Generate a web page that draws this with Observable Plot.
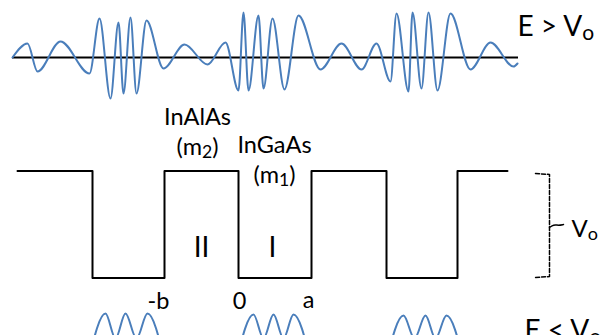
<!DOCTYPE html>
<html><head><meta charset="utf-8">
<script src="https://cdn.jsdelivr.net/npm/d3@7"></script>
<script src="https://cdn.jsdelivr.net/npm/@observablehq/plot@0.6"></script>
<style>html,body{margin:0;padding:0;background:#fff;overflow:hidden}</style>
</head><body><div id="chart"></div>
<script>
// Wave above the barriers (E > Vo): extrema
const topWaveX = [12,27,37,60,89,99,110,118,123,130,136,146,163,184,207,225,238,243,248,258,263,272,284,298,320,341,361,376,390,396,408,412,421,428,437,450,470,490,513,517];
const topWaveY = [57,43,71,41,73,18,98,22,93,17,93,20,68,44,64,42,90,12,90,15,88,18,89,15,69,43,69,43,81,13,91,12,88,12,90,13,69,42,66,63];
const topAxis = {y: 57, x1: 12, x2: 518};

// Wave below (E < Vo): three groups of humps, one per well
const bottomWaveGroup = ["A","A","A","A","A","A","A","B","B","B","B","B","B","B","C","C","C","C","C","C","C"];
const bottomWaveX = [88,105,115,125,136,147,164, 236,253,263,273,283,293,310, 386,403,414,425,435,446,463];
const bottomWaveY = [360,313,338,313,338,313,360, 360,314,338,314,338,314,360, 360,315,338,315,338,315,360];

// Potential profile: segment edges and level (1 = barrier Vo, 0 = well)
const profileEdges = [17, 92, 164, 238, 311, 386, 457, 507];
const profileLevels = [1, 0, 1, 0, 1, 0, 1];
const levelPos = {1: 170.5, 0: 277.5};

// Vo bracket
const bracketX = [535, 549, 549, 535];
const bracketY = [173, 174, 276, 277];
const tildeX = [549, 553, 558, 563];
const tildeY = [227, 224, 225, 224];

// Labels
const midLabels = ["InAlAs", "(m_2)", "InGaAs", "(m_1)", "-b", "0", "a"];
const midLabelX = [197, 197, 274, 274, 158, 239, 308];
const midLabelY = [124, 154, 152, 182, 308, 308, 307];
const regionLabels = ["II", "I"];
const regionLabelX = [201, 272];
const regionLabelY = [256, 256];
const bigLabels = ["E > V_o", "E < V_o"];
const bigLabelX = [517, 524];
const bigLabelY = [35, 339];
const voLabel = [{x: 571, y: 236, t: "V_o"}];

const blue = "#4a7ebb";

const topWave = topWaveX.map((x, i) => ({x, y: topWaveY[i]}));
const bottomWave = bottomWaveX.map((x, i) => ({x, y: bottomWaveY[i], g: bottomWaveGroup[i]}));
const profile = [];
profileLevels.forEach((lv, i) => {
  profile.push({x: profileEdges[i], y: levelPos[lv]});
  profile.push({x: profileEdges[i + 1], y: levelPos[lv]});
});
const bracket = bracketX.map((x, i) => ({x, y: bracketY[i]}));
const tilde = tildeX.map((x, i) => ({x, y: tildeY[i]}));
const mids = midLabels.map((t, i) => ({t, x: midLabelX[i], y: midLabelY[i]}));
const regions = regionLabels.map((t, i) => ({t, x: regionLabelX[i], y: regionLabelY[i]}));
const bigs = bigLabels.map((t, i) => ({t, x: bigLabelX[i], y: bigLabelY[i]}));

const font = "Lato, 'Open Sans', sans-serif";

const svg = Plot.plot({
  width: 602, height: 335, margin: 0,
  x: {domain: [0, 602], range: [0, 602], axis: null},
  y: {domain: [0, 335], range: [0, 335], axis: null},
  style: {fontFamily: font, fontSize: "22px", background: "#fff", color: "#000", overflow: "hidden"},
  marks: [
    Plot.ruleY([topAxis], {y: "y", x1: "x1", x2: "x2", stroke: "#000", strokeWidth: 2}),
    Plot.line(topWave, {x: "x", y: "y", curve: "monotone-x", stroke: blue, strokeWidth: 2}),
    Plot.line(bottomWave, {x: "x", y: "y", z: "g", curve: "monotone-x", stroke: blue, strokeWidth: 2, clip: true}),
    Plot.line(profile, {x: "x", y: "y", stroke: "#000", strokeWidth: 2}),
    Plot.line(bracket, {x: "x", y: "y", stroke: "#000", strokeWidth: 1.5, strokeDasharray: "4,2"}),
    Plot.line(tilde, {x: "x", y: "y", curve: "basis", stroke: "#000", strokeWidth: 1.5}),
    Plot.text(mids, {x: "x", y: "y", text: "t", textAnchor: "middle", lineAnchor: "bottom", fontSize: 23.5, fill: "#000"}),
    Plot.text(regions, {x: "x", y: "y", text: "t", textAnchor: "middle", lineAnchor: "bottom", fontSize: 28, fill: "#000"}),
    Plot.text(bigs, {x: "x", y: "y", text: "t", textAnchor: "start", lineAnchor: "bottom", fontSize: 28, fill: "#000"}),
    Plot.text(voLabel, {x: "x", y: "y", text: "t", textAnchor: "start", lineAnchor: "bottom", fontSize: 24, fill: "#000"})
  ]
});

// turn "X_s" into a subscript
const ns = "http://www.w3.org/2000/svg";
svg.querySelectorAll("text").forEach(t => {
  const s = t.textContent;
  const m = s.match(/^(.*)_(\w)(.*)$/);
  if (!m) return;
  while (t.firstChild) t.removeChild(t.firstChild);
  const a = document.createElementNS(ns, "tspan"); a.textContent = m[1];
  const b = document.createElementNS(ns, "tspan"); b.textContent = m[2];
  b.setAttribute("font-size", "0.75em"); b.setAttribute("dy", "0.22em");
  t.appendChild(a); t.appendChild(b);
  if (m[3]) {
    const c = document.createElementNS(ns, "tspan"); c.textContent = m[3];
    c.setAttribute("dy", "-0.165em");
    t.appendChild(c);
  }
});
document.getElementById("chart").appendChild(svg);
</script>
</body></html>
